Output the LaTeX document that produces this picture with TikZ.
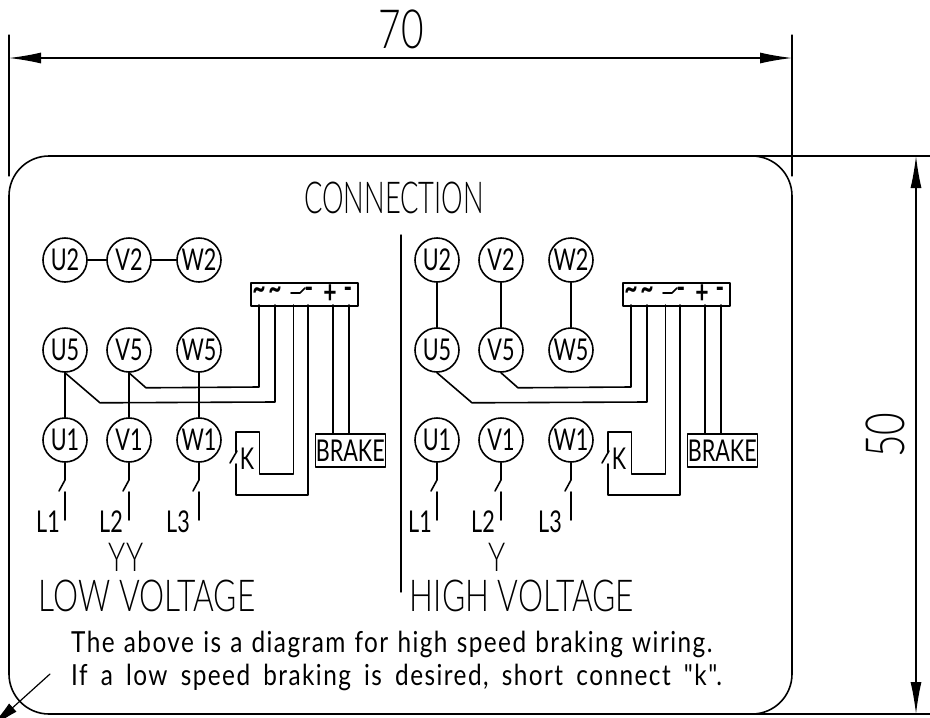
\documentclass[tikz,border=0pt]{standalone}
\usepackage{fontspec}
\setmainfont[FakeStretch=0.72,UprightFont={* Light}]{Lato}
\newfontfamily\regularfont[FakeStretch=0.72]{Lato}
\newfontfamily\symbolfont[FakeStretch=0.72,UprightFont={* Bold}]{Lato}
\newfontfamily\narrowfont[FakeStretch=0.62,UprightFont={* Light}]{Lato}
\newfontfamily\notefont[FakeStretch=0.84,LetterSpace=5]{Lato}
\usetikzlibrary{arrows.meta}
\def\labelsize{\regularfont\fontsize{30}{30}\selectfont}
\def\symbolsize{\symbolfont\fontsize{32}{32}\selectfont}
\def\titlesize{\fontsize{44}{44}\selectfont}
\def\notesize{\notefont\fontsize{29}{29}\selectfont}
\def\dimsize{\fontsize{54}{54}\selectfont}
\tikzset{
	wire/.style={line width=1.6pt},
	terminal/.style={circle, draw, line width=1.6pt, inner sep=0pt, minimum size=44pt, font=\labelsize},
	dimline/.style={line width=1.2pt, {Latex[length=32pt,width=11pt]}-{Latex[length=32pt,width=11pt]}},
	extline/.style={line width=1.2pt},
	panelbox/.style={rectangle, draw, line width=1.6pt, inner sep=0pt, font=\labelsize},
	sign/.style={inner sep=0pt, font=\symbolsize}
}

\begin{document}
\begin{tikzpicture}[x=1pt, y=-1pt, line cap=round, line join=round]
	\clip (0,0) rectangle (930,718);
	\fill[white] (0,0) rectangle (930,718);

	%Coordinates
	\coordinate (top left) at (9,35);
	\coordinate (top right) at (792,35);
	\coordinate (dim left) at (9,58);
	\coordinate (dim right) at (792,58);
	\coordinate (dim top) at (916,156);
	\coordinate (dim bottom) at (916,714);

	%Plate
	\draw[line width=1.6pt, rounded corners=40pt] (9,156) rectangle (792,714);

	%Dimensions
	\draw[extline] (top left) -- (9,176);
	\draw[extline] (top right) -- (792,176);
	\draw[extline] (752,156) -- (930,156);
	\draw[extline] (752,714) -- (930,714);
	\draw[dimline] (dim left) -- (dim right);
	\draw[dimline] (dim top) -- (dim bottom);
	\node[font=\dimsize] (width) at (401,29) {70};
	\node[font=\dimsize, rotate=90] (height) at (885,435) {50};

	%Leader
	\coordinate (leader start) at (50,674);
	\coordinate (leader end) at (-11,729);
	\draw[extline, -{Latex[length=32pt,width=11pt]}] (leader start) -- (leader end);

	%Divider
	\coordinate (divider top) at (401,235);
	\coordinate (divider bottom) at (401,592);
	\draw[line width=1.4pt] (divider top) -- (divider bottom);

	%Panels
	\foreach \p/\dx in {a/0, b/372}
	{
		\begin{scope}[shift={(\dx,0)}]
			%Terminals
			\foreach \x/\c in {65/U, 129/V, 199/W}
			{
				\node[terminal] (\p\c2) at (\x,260) {\c2};
				\node[terminal] (\p\c5) at (\x,350) {\c5};
				\node[terminal] (\p\c1) at (\x,440) {\c1};
				%Line switch
				\coordinate (\p\c sw) at (\x,480);
				\coordinate (\p\c lo) at (\x,492);
				\coordinate (\p\c end) at (\x,520);
				\draw[wire] (\p\c1.south) -- (\p\c sw) -- ++(-6,11);
				\draw[wire] (\p\c lo) -- (\p\c end);
			}

			%Rectifier box
			\node[panelbox, minimum width=107pt, minimum height=23pt, anchor=north west] (\p box) at (250,282) {};
			\node[sign] (\p s1) at (259,293) {\char`~};
			\node[sign] (\p s2) at (275,293) {\char`~};
			\node[sign] (\p s4) at (309,293) {-};
			\node[sign] (\p s5) at (330,294) {+};
			\node[sign] (\p s6) at (348,293) {-};
			\draw[line width=1.6pt] (291,293) -- (300,293) -- (305,288);

			%Brake
			\node[panelbox, minimum width=70pt, minimum height=33pt, anchor=north west] (\p brake) at (314.5,433) {BRAKE};
			\draw[wire] (333,305) -- (333,433);
			\draw[wire] (349,305) -- (349,433);

			%Coil K
			\node[inner sep=0pt, font=\labelsize] (\p k) at (247,459) {K};
			\draw[wire] (293.5,305) -- (293.5,474) -- (259.5,474) -- (259.5,432) -- (236,432) -- (236,452);
			\draw[wire] (236,464) -- (236,495) -- (308,495) -- (308,305);
			\draw[wire] (230,463) -- (237,451);

			%Rectifier feed
			\draw[wire] (\p V5.south) -- ++(17,15) -- (259,387) -- (259,305);
			\draw[wire] (\p U5.south) -- ++(35,30) -- (275,402) -- (275,305);

			%Line labels
			\node[font=\labelsize, anchor=base, inner sep=0pt] (\p L1) at (48,532) {L1};
			\node[font=\labelsize, anchor=base, inner sep=0pt] (\p L2) at (111,532) {L2};
			\node[font=\labelsize, anchor=base, inner sep=0pt] (\p L3) at (178,532) {L3};
		\end{scope}
	}

	%Links
	\draw[wire] (aU2) -- (aV2);
	\draw[wire] (aV2) -- (aW2);
	\draw[wire] (aU5) -- (aU1);
	\draw[wire] (aV5) -- (aV1);
	\draw[wire] (aW5) -- (aW1);
	\draw[wire] (bU2) -- (bU5);
	\draw[wire] (bV2) -- (bV5);
	\draw[wire] (bW2) -- (bW5);

	%Captions
	\node[font=\narrowfont\titlesize, anchor=base, inner sep=0pt] (title) at (394,213) {CONNECTION};
	\node[font=\fontsize{40}{40}\selectfont, anchor=base, inner sep=0pt] (yy) at (126,571) {YY};
	\node[font=\fontsize{40}{40}\selectfont, anchor=base, inner sep=0pt] (y) at (497,571) {Y};
	\node[font=\titlesize, anchor=base, inner sep=0pt] (low) at (147,611) {LOW VOLTAGE};
	\node[font=\titlesize, anchor=base, inner sep=0pt] (high) at (522,611) {HIGH VOLTAGE};
	\node[font=\notesize, anchor=base west, inner sep=0pt] (note one) at (71,652) {\spaceskip=9.2pt The above is a diagram for high speed braking wiring.};
	\node[font=\notesize, anchor=base west, inner sep=0pt] (note two) at (71,685) {\spaceskip=13.2pt If a low speed braking is desired, short connect "k".};
\end{tikzpicture}
\end{document}
